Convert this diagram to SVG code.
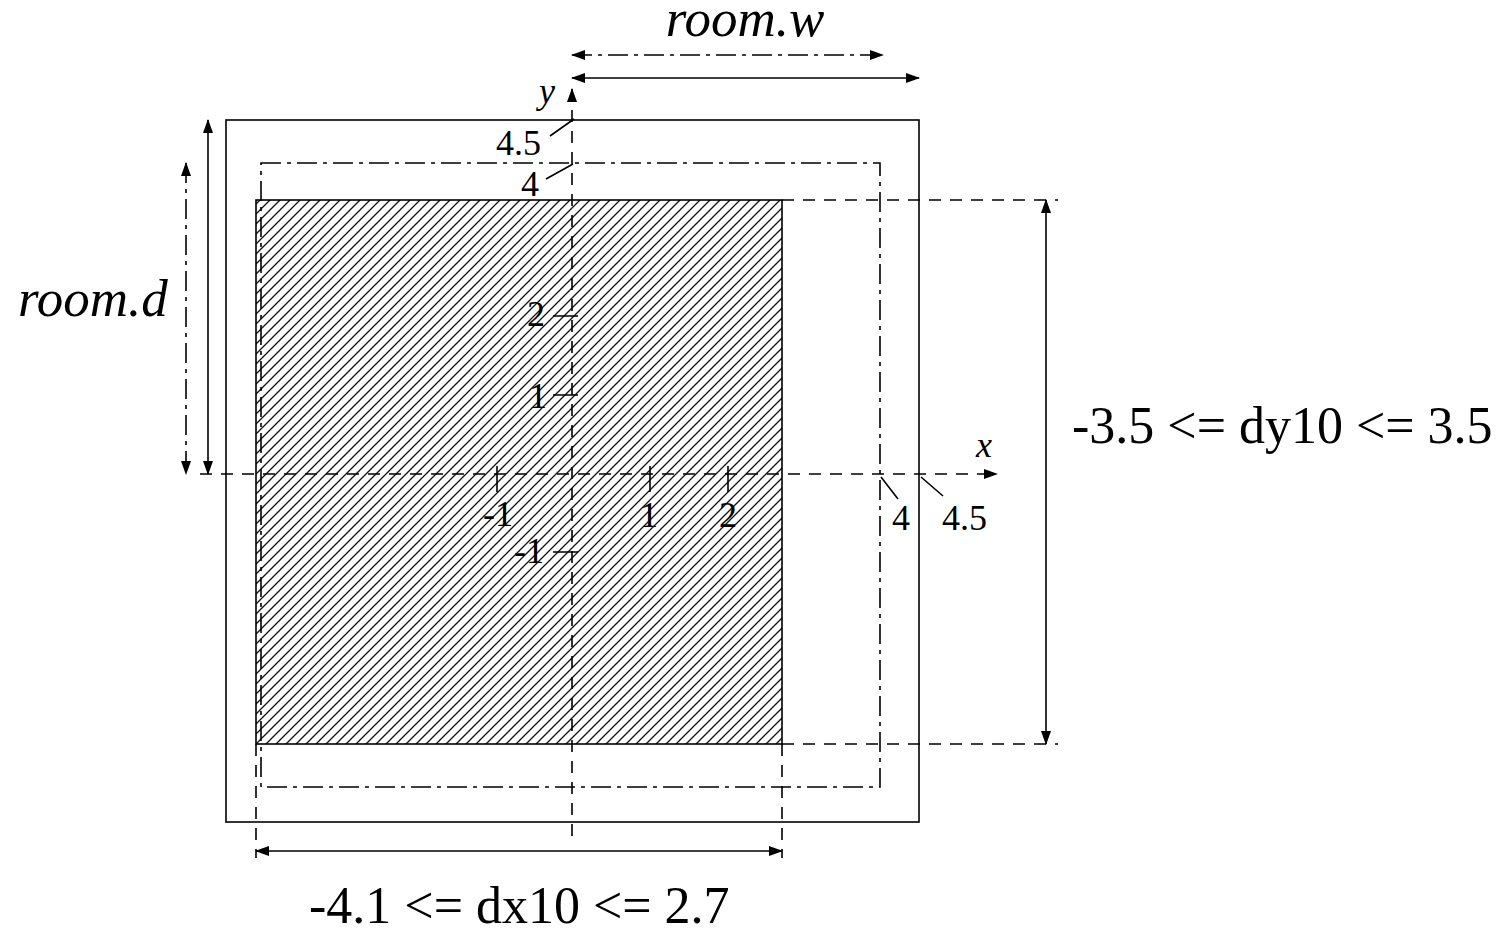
<svg xmlns="http://www.w3.org/2000/svg" width="1507" height="928" viewBox="0 0 1507 928">
<style>
.s{fill:none;stroke:#000;stroke-width:1.6}
.d{fill:none;stroke:#000;stroke-width:1.6;stroke-dasharray:12,9}
.dd{fill:none;stroke:#000;stroke-width:1.6;stroke-dasharray:20,6,4,6}
.t{font-family:"Liberation Serif","Times New Roman",serif;fill:#000}
.big{font-size:52px}
.bigi{font-size:53px;font-style:italic}
.sm{font-size:36px}
.it{font-style:italic}
</style>
<defs>
<pattern id="hatch" patternUnits="userSpaceOnUse" width="10" height="10">
<path d="M-1,1 L1,-1 M0,10 L10,0 M9,11 L11,9" stroke="#111" stroke-width="1.3"/>
</pattern>
<marker id="ah" markerUnits="userSpaceOnUse" markerWidth="14" markerHeight="10" refX="13" refY="5" orient="auto-start-reverse">
<path d="M0,0 L14,5 L0,10 z" fill="#000"/>
</marker>
</defs>
<g id="outer-room"><rect class="s" x="226" y="120" width="693" height="702"/></g>
<g id="hatched-area"><rect x="256" y="200" width="526" height="544" fill="url(#hatch)" stroke="#000" stroke-width="1.6"/></g>
<g id="inner-room"><rect class="dd" x="261" y="163" width="619" height="624"/></g>
<g id="connectors">
<line class="d" x1="572" y1="836" x2="572" y2="89" marker-end="url(#ah)"/>
<line class="d" x1="200" y1="474" x2="997" y2="474" marker-end="url(#ah)"/>
<line class="d" x1="782" y1="200" x2="1058" y2="200"/>
<line class="d" x1="782" y1="744" x2="1058" y2="744"/>
<line class="d" x1="256" y1="744" x2="256" y2="858"/>
<line class="d" x1="782" y1="744" x2="782" y2="858"/>
<line class="s" x1="572" y1="78" x2="919" y2="78" marker-start="url(#ah)" marker-end="url(#ah)"/>
<line class="dd" x1="572" y1="55" x2="883" y2="55" marker-start="url(#ah)" marker-end="url(#ah)"/>
<line class="s" x1="208" y1="120" x2="208" y2="474" marker-start="url(#ah)" marker-end="url(#ah)"/>
<line class="dd" x1="186" y1="163" x2="186" y2="474" marker-start="url(#ah)" marker-end="url(#ah)"/>
<line class="s" x1="1046" y1="200" x2="1046" y2="744" marker-start="url(#ah)" marker-end="url(#ah)"/>
<line class="s" x1="256" y1="851" x2="782" y2="851" marker-start="url(#ah)" marker-end="url(#ah)"/>
<path class="s" d="M553,316 H578 M553,395 H578 M553,552 H578 M497,466 V492 M650,466 V492 M728,466 V492"/>
<path class="s" d="M574,119 L550,136 M573,164 L546,179 M881,477 L898,499 M921,477 L943,496"/>
</g>
<g id="labels">
<text class="t bigi" x="745" y="36" text-anchor="middle">room.w</text>
<text class="t bigi" x="18" y="316">room.d</text>
<text class="t big" x="1072" y="443">-3.5 &lt;= dy10 &lt;= 3.5</text>
<text class="t big" x="309" y="923">-4.1 &lt;= dx10 &lt;= 2.7</text>
<text class="t sm it" x="539" y="103">y</text>
<text class="t sm it" x="976" y="457">x</text>
<text class="t sm" x="496" y="155">4.5</text>
<text class="t sm" x="521" y="196">4</text>
<text class="t sm" x="527" y="326">2</text>
<text class="t sm" x="529" y="408">1</text>
<text class="t sm" x="514" y="563">-1</text>
<text class="t sm" x="483" y="526">-1</text>
<text class="t sm" x="640" y="527">1</text>
<text class="t sm" x="719" y="527">2</text>
<text class="t sm" x="892" y="530">4</text>
<text class="t sm" x="942" y="530">4.5</text>
</g>
</svg>
